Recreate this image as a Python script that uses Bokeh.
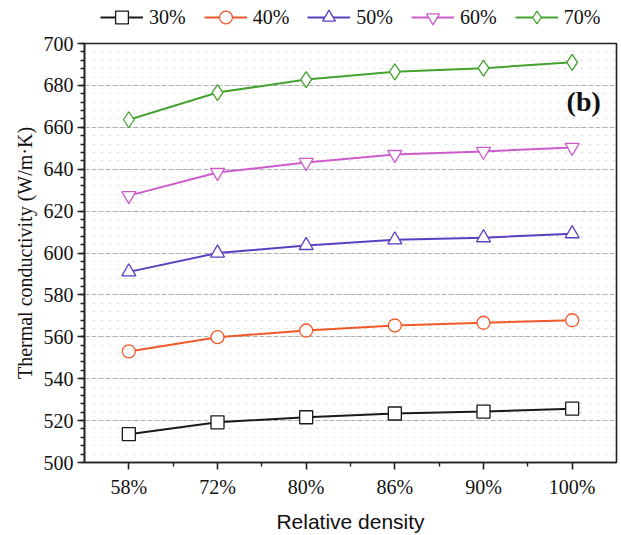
from bokeh.plotting import figure
from bokeh.layouts import column
from bokeh.models import (Range1d, FixedTicker, Legend, LegendItem, Label,
                          ColumnDataSource)
from bokeh.embed import file_html
from bokeh.resources import INLINE

categories = ["58%", "72%", "80%", "86%", "90%", "100%"]
s30 = [513.5, 519.2, 521.6, 523.4, 524.3, 525.7]
s40 = [553.0, 559.8, 563.0, 565.4, 566.7, 567.9]
s50 = [591.0, 600.0, 603.6, 606.3, 607.3, 609.2]
s60 = [627.4, 638.4, 643.2, 647.0, 648.5, 650.4]
s70 = [663.6, 676.6, 682.8, 686.5, 688.2, 691.0]
series_names = ["30%", "40%", "50%", "60%", "70%"]
y_ticks = [500, 520, 540, 560, 580, 600, 620, 640, 660, 680, 700]

colors = ["#1a1a1a", "#F0592A", "#5C3EC0", "#CC5CCC", "#45A22F"]
markers = ["square", "circle", "triangle", "inverted_triangle", "diamond"]
sizes = [13, 13, 14, 14, 16]

xs = [i + 0.5 for i in range(len(categories))]
serif = "Liberation Serif"

p = figure(width=621, frame_width=532, frame_height=419, output_backend="svg",
           toolbar_location=None,
           x_range=Range1d(0, len(categories)), y_range=Range1d(500, 700),
           min_border_left=84, min_border_right=5, min_border_top=10,
           min_border_bottom=71, background_fill_color="white",
           border_fill_color="white")

p.outline_line_color = "#222222"
p.outline_line_width = 1.6

# x axis
p.xaxis.ticker = FixedTicker(ticks=xs, minor_ticks=[float(i) for i in range(1, len(categories))])
p.xaxis.major_label_overrides = {x: c for x, c in zip(xs, categories)}
p.xaxis.axis_label = "Relative density"
p.xaxis.axis_label_text_font = "Liberation Sans"
p.xaxis.axis_label_text_font_style = "normal"
p.xaxis.axis_label_text_font_size = "21px"
p.xaxis.axis_label_standoff = 9
p.xaxis.major_label_text_font = serif
p.xaxis.major_label_text_font_size = "20px"
p.xaxis.major_label_standoff = 6

# y axis
p.yaxis.ticker = FixedTicker(ticks=y_ticks, minor_ticks=list(range(500, 701, 4)))
p.yaxis.axis_label = "Thermal conductivity (W/m\u00b7K)"
p.yaxis.axis_label_text_font = serif
p.yaxis.axis_label_text_font_style = "normal"
p.yaxis.axis_label_text_font_size = "20px"
p.yaxis.axis_label_standoff = 5
p.yaxis.major_label_text_font = serif
p.yaxis.major_label_text_font_size = "20px"
p.yaxis.major_label_standoff = 4

for ax in (p.xaxis[0], p.yaxis[0]):
    ax.axis_line_color = "#222222"
    ax.axis_line_width = 1.6
    ax.major_tick_line_color = "#222222"
    ax.major_tick_line_width = 1.6
    ax.minor_tick_line_color = "#222222"
    ax.minor_tick_line_width = 1.4
    ax.major_tick_out = 7
    ax.major_tick_in = 0
    ax.minor_tick_out = 4
    ax.minor_tick_in = 0
    ax.major_label_text_color = "#111111"
    ax.axis_label_text_color = "#111111"

# grid
p.xgrid.grid_line_color = None
p.ygrid.grid_line_color = "#b0b0b0"
p.ygrid.grid_line_dash = "5 2"
p.ygrid.grid_line_width = 1
p.ygrid.minor_grid_line_color = "#d4d4d4"
p.ygrid.minor_grid_line_dash = "2 6"
p.ygrid.minor_grid_line_width = 1

# legend strip (separate canvas above the plot so it is not clipped)
leg = figure(width=621, height=33, output_backend="svg", toolbar_location=None,
             x_range=Range1d(-20, -19), y_range=Range1d(0, 1),
             x_axis_location=None, y_axis_location=None,
             min_border=0, outline_line_color=None,
             background_fill_color="white", border_fill_color="white")
leg.grid.grid_line_color = None

items = []
for name, ys, c, m, s in zip(series_names, [s30, s40, s50, s60, s70], colors, markers, sizes):
    src = ColumnDataSource(dict(x=xs, y=ys))
    p.line("x", "y", source=src, line_color=c, line_width=2)
    p.scatter("x", "y", source=src, marker=m, size=s, line_color=c,
              line_width=1.3, fill_color="white")
    r1 = leg.line("x", "y", source=src, line_color=c, line_width=2)
    r2 = leg.scatter("x", "y", source=src, marker=m, size=s, line_color=c,
                     line_width=1.3, fill_color="white")
    items.append(LegendItem(label=name, renderers=[r1, r2]))

legend = Legend(items=items, orientation="horizontal", location=(16, 0),
                border_line_color=None, background_fill_alpha=0,
                label_text_font=serif, label_text_font_size="20px",
                label_text_color="#111111",
                glyph_width=43, glyph_height=32, label_standoff=6, spacing=18,
                padding=0, margin=0)
leg.add_layout(legend)

p.add_layout(Label(x=5.63, y=672.5, text="(b)", text_font=serif,
                   text_font_size="28px", text_font_style="bold",
                   text_align="center", text_baseline="middle",
                   text_color="#111111"))

layout = column(leg, p, spacing=0)
open("out.html", "w").write(file_html(layout, INLINE))
